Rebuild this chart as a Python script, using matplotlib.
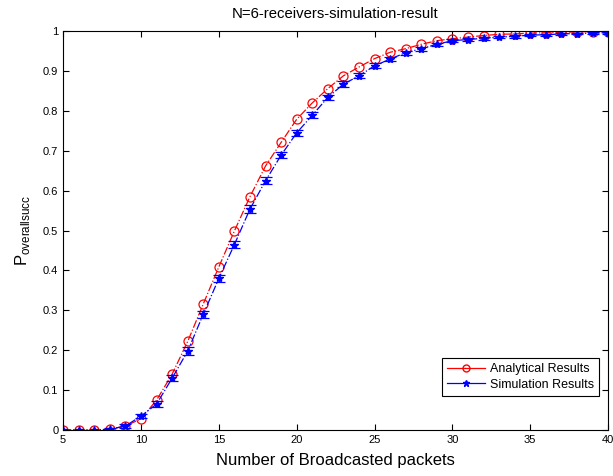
import matplotlib
matplotlib.use("Agg")
import matplotlib.pyplot as plt
from matplotlib.lines import Line2D

plt.rcParams['font.family'] = ['Liberation Sans', 'DejaVu Sans']

packets = list(range(5, 41))
analytical = [0.0, 0.0, 0.0, 0.002, 0.01, 0.028, 0.075, 0.14, 0.222, 0.316, 0.409, 0.499,
              0.585, 0.662, 0.721, 0.779, 0.820, 0.856, 0.888, 0.910, 0.931, 0.947,
              0.956, 0.967, 0.976, 0.981, 0.985, 0.989, 0.992, 0.993, 0.995, 0.996,
              0.997, 0.998, 0.999, 0.999]
simulation = [0.0, 0.0, 0.0, 0.002, 0.01, 0.035, 0.065, 0.13, 0.198, 0.29, 0.38, 0.465,
              0.554, 0.625, 0.689, 0.745, 0.789, 0.834, 0.867, 0.888, 0.913, 0.930,
              0.946, 0.956, 0.967, 0.976, 0.979, 0.982, 0.985, 0.987, 0.990, 0.991,
              0.993, 0.994, 0.995, 0.996]
sim_err = [0.001, 0.001, 0.001, 0.002, 0.004, 0.006, 0.007, 0.008, 0.009, 0.009, 0.009, 0.009,
           0.009, 0.009, 0.008, 0.008, 0.008, 0.007, 0.007, 0.006, 0.006, 0.005,
           0.005, 0.005, 0.004, 0.004, 0.004, 0.003, 0.003, 0.003, 0.003, 0.003,
           0.002, 0.002, 0.002, 0.002]
xticks = [5, 10, 15, 20, 25, 30, 35, 40]
yticks = [0, 0.1, 0.2, 0.3, 0.4, 0.5, 0.6, 0.7, 0.8, 0.9, 1]
yticklabels = ['0', '0.1', '0.2', '0.3', '0.4', '0.5', '0.6', '0.7', '0.8', '0.9', '1']

fig = plt.figure(figsize=(6.13, 4.76), dpi=100)
ax = fig.add_axes([0.103, 0.0966, 0.889, 0.838])

ax.plot(packets, analytical, color='red', linestyle='-.', linewidth=0.9,
        marker='o', markersize=6.5, markerfacecolor='none', markeredgecolor='red',
        markeredgewidth=0.9)
ax.errorbar(packets, simulation, yerr=sim_err, color='blue', linestyle='-.', linewidth=0.9,
            marker='*', markersize=6, markerfacecolor='blue', markeredgecolor='blue',
            ecolor='blue', elinewidth=0.9, capsize=4, capthick=0.9)

ax.set_xlim(5, 40)
ax.set_ylim(0, 1)
ax.set_xticks(xticks)
ax.set_yticks(yticks)
ax.set_yticklabels(yticklabels)
ax.tick_params(direction='in', top=True, right=True, labelsize=8, length=4, width=0.8)
for s in ax.spines.values():
    s.set_linewidth(0.8)

ax.set_title('N=6-receivers-simulation-result', fontsize=10.7, pad=9.5)
ax.set_xlabel('Number of Broadcasted packets', fontsize=12, labelpad=6)
ax.set_ylabel(r'P$_{\mathregular{overallsucc}}$', fontsize=12, labelpad=8)

handles = [
    Line2D([0], [0], color='red', linestyle='-', linewidth=0.9, marker='o', markersize=5,
           markerfacecolor='none', markeredgecolor='red'),
    Line2D([0], [0], color='blue', linestyle='-', linewidth=0.9, marker='*', markersize=5,
           markerfacecolor='blue', markeredgecolor='blue'),
]
leg = ax.legend(handles, ['Analytical Results', 'Simulation Results'],
                loc='lower right', bbox_to_anchor=(0.983, 0.086), fontsize=9,
                fancybox=False, framealpha=1, edgecolor='black', handlelength=3.0,
                borderpad=0.4, labelspacing=0.3, handletextpad=0.4, borderaxespad=0)
leg.get_frame().set_linewidth(0.8)

fig.savefig('out.png', dpi=100)
